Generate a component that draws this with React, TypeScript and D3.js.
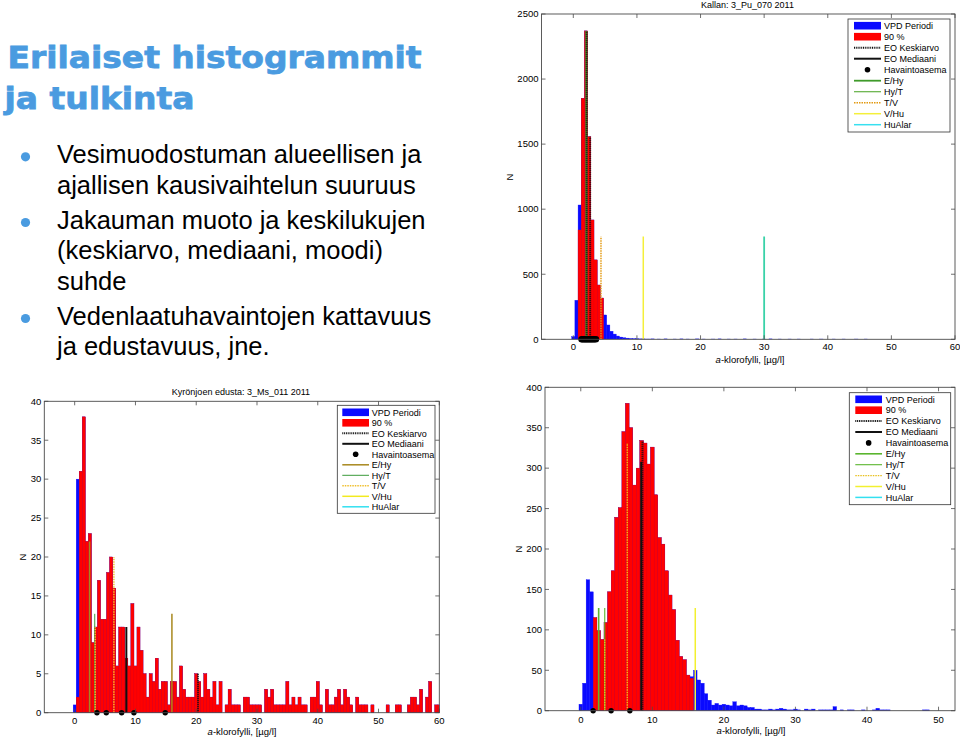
import React from 'react';
import * as d3 from 'd3';

const FONT = '"Liberation Sans", Arial, Helvetica, sans-serif';
const BIN = 0.5; // histogram bin width (µg/l); bin i is centred at i * BIN

// ---------------- slide text ----------------
const titleLines = ['Erilaiset histogrammit', 'ja tulkinta'];
const bulletGroups = [
  ['Vesimuodostuman alueellisen ja', 'ajallisen kausivaihtelun suuruus'],
  ['Jakauman muoto ja keskilukujen', '(keskiarvo, mediaani, moodi)', 'suhde'],
  ['Vedenlaatuhavaintojen kattavuus', 'ja edustavuus, jne.'],
];
const legendLabels = ['VPD Periodi', '90 %', 'EO Keskiarvo', 'EO Mediaani', 'Havaintoasema', 'E/Hy', 'Hy/T', 'T/V', 'V/Hu', 'HuAlar'];
const xLabelText = '-klorofylli, [µg/l]';

// ---------------- chart 1: Kallan ----------------
const kallanTitle = 'Kallan: 3_Pu_070 2011';
const kallanXTicks = [0, 10, 20, 30, 40, 50, 60];
const kallanYTicks = [0, 500, 1000, 1500, 2000, 2500];
const kallanRed = [0, 0, 840, 1852, 2370, 1557, 917, 610, 417, 317];
const kallanBlueTail = [187, 110, 62, 40, 25, 17, 12, 9, 6, 5, 4, 3, 3, 2, 2, 3, 0, 2, 0, 3, 0, 0, 2, 0, 3, 0, 2, 0, 0, 3, 0, 2, 0, 0, 2, 0, 3, 0, 0, 2, 0, 2, 0, 0, 3, 0, 0, 2, 0, 0, 2, 0, 3, 0, 0, 2, 0, 0, 2, 0, 0, 2, 0, 0, 0, 2, 0, 0, 2, 0, 0, 0, 2, 0, 0, 2, 0, 0, 0, 2, 0, 0, 2];
const kallanBlue = [20, 300, 1032, ...kallanRed.slice(3), ...kallanBlueTail];
const kallanLines = [
  { x: 2.05, h: 2370, kind: 'E/Hy' },
  { x: 2.1, h: 2370, kind: 'Keskiarvo' },
  { x: 2.65, h: 1557, kind: 'Keskiarvo' },
  { x: 4.35, h: 790, kind: 'T/V' },
  { x: 11.0, h: 790, kind: 'V/Hu' },
  { x: 30.0, h: 790, kind: 'HuAlarMix' },
];
const kallanStations = [1.3, 1.5, 1.7, 1.9, 2.1, 2.3, 2.5, 2.7, 2.9, 3.1, 3.3, 3.55];

// ---------------- chart 2: Kyrönjoen edusta ----------------
const kyroTitle = 'Kyrönjoen edusta: 3_Ms_011 2011';
const kyroXTicks = [0, 10, 20, 30, 40, 50, 60];
const kyroYTicks = [0, 5, 10, 15, 20, 25, 30, 35, 40];
const kyroRed = [
  0, 2, 31, 38, 22, 23, 9, 11, 17, 12,
  12, 18, 20, 16, 6, 11, 11, 7, 6, 14,
  6, 11, 8, 5, 2, 5, 4, 7, 3, 4,
  4, 1, 4, 4, 2, 6, 3, 2, 2, 2,
  5, 4, 2, 5, 3, 2, 4, 1, 4, 0,
  1, 3, 1, 1, 1, 0, 2, 2, 1, 1,
  1, 1, 0, 3, 2, 3, 1, 1, 1, 1,
  4, 1, 2, 1, 2, 1, 1, 0, 2, 2,
  4, 1, 0, 3, 1, 1, 2, 3, 1, 3,
  2, 1, 0, 2, 1, 1, 1, 0, 1, 0,
  0, 0, 0, 1, 0, 0, 1, 1, 0, 0,
  1, 2, 2, 1, 3, 0, 2, 4, 0, 1, 1,
];
const kyroBlue = [1, 30, ...kyroRed.slice(2)];
const kyroLines = [
  { x: 2.45, h: 22, kind: 'E/Hy' },
  { x: 3.3, h: 12.7, kind: 'Hy/T' },
  { x: 3.38, h: 11, kind: 'T/V' },
  { x: 6.45, h: 20, kind: 'T/V' },
  { x: 8.5, h: 11, kind: 'Mediaani' },
  { x: 16.0, h: 12.7, kind: 'E/Hy' },
  { x: 20.3, h: 5, kind: 'Keskiarvo' },
];
const kyroStations = [3.67, 5.2, 7.73, 9.75, 14.9];

// ---------------- chart 3 ----------------
const c3XTicks = [0, 10, 20, 30, 40, 50];
const c3YTicks = [0, 50, 100, 150, 200, 250, 300, 350, 400];
const c3Red = [
  0, 0, 0, 0, 115, 99, 88, 109, 147, 173,
  239, 251, 345, 380, 350, 279, 300, 334, 331, 305,
  326, 267, 214, 206, 173, 143, 125, 87, 67, 63,
  44, 40,
];
const c3BlueTail = [
  42, 50, 38, 34, 21, 13, 7, 9, 7, 8,
  7, 6, 11, 6, 7, 6, 4, 4, 2, 2,
  1, 1, 2, 1, 2, 3, 2, 1, 1, 2,
  1, 0, 2, 1, 2, 0, 1, 1, 1, 1,
  5, 0, 1, 0, 1, 1, 0, 0, 1, 0,
  0, 1, 3, 1, 1, 1, 0, 0, 0, 0,
  0, 0, 0, 0, 0, 1, 1,
];
const c3Blue = [8, 34, 162, 147, ...c3Red.slice(4, 31), ...c3BlueTail];
const c3Lines = [
  { x: 2.5, h: 127, kind: 'E/Hy' },
  { x: 3.35, h: 127, kind: 'Hy/T' },
  { x: 3.35, h: 88, kind: 'T/V' },
  { x: 6.5, h: 331, kind: 'T/V' },
  { x: 8.45, h: 308, kind: 'Mediaani' },
  { x: 8.62, h: 334, kind: 'Keskiarvo' },
  { x: 16.0, h: 127, kind: 'V/Hu' },
];
const c3Stations = [1.73, 4.24, 6.86];

// ---------------- styles ----------------
type LS = { stroke: string; w: number; dash?: string };
const kallanStyles: Record<string, LS> = {
  'E/Hy': { stroke: '#3f9a2a', w: 2 },
  'Hy/T': { stroke: '#62b043', w: 1.2 },
  'T/V': { stroke: '#e39a12', w: 1.5, dash: '1.5,1' },
  'V/Hu': { stroke: '#f4ef3a', w: 1.5 },
  HuAlar: { stroke: '#38e0f0', w: 1.5 },
  HuAlarMix: { stroke: '#3ad2a8', w: 1.8 },
  Keskiarvo: { stroke: '#111', w: 2, dash: '1,1' },
  Mediaani: { stroke: '#111', w: 2 },
};
const kyroStyles: Record<string, LS> = {
  'E/Hy': { stroke: '#a8881e', w: 1.5 },
  'Hy/T': { stroke: '#3a9a3a', w: 1 },
  'T/V': { stroke: '#f0c030', w: 1.5, dash: '1.5,1' },
  'V/Hu': { stroke: '#f2ea20', w: 1.5 },
  HuAlar: { stroke: '#33e0f0', w: 1.5 },
  Keskiarvo: { stroke: '#111', w: 2, dash: '1,1' },
  Mediaani: { stroke: '#111', w: 2 },
};
const c3Styles: Record<string, LS> = {
  'E/Hy': { stroke: '#5ab52e', w: 1.6 },
  'Hy/T': { stroke: '#5ab52e', w: 1.1 },
  'T/V': { stroke: '#e8c020', w: 1.4, dash: '1.5,1' },
  'V/Hu': { stroke: '#f2f030', w: 1.5 },
  HuAlar: { stroke: '#33e0f0', w: 1.5 },
  Keskiarvo: { stroke: '#111', w: 2, dash: '1,1' },
  Mediaani: { stroke: '#111', w: 2 },
};

const BLUE = '#0a0aff';
const RED = '#ff0000';

type Cfg = {
  id: string;
  left: number; right: number; top: number; bottom: number;
  xDomain: [number, number]; yDomain: [number, number];
  xTicks: number[]; yTicks: number[];
  blue: number[]; red: number[];
  lines: { x: number; h: number; kind: string }[];
  stations: number[]; dotR: number;
  styles: Record<string, LS>;
  title?: string; titleX?: number; titleY?: number;
  xlabX: number; xlabY: number; nX: number; nY: number;
  xtY: number;
  legend: { x0: number; x1: number; y0: number; y1: number; row0: number; step: number; sw0: number; sw1: number; tx: number };
};

function Legend({ cfg }: { cfg: Cfg }) {
  const L = cfg.legend;
  const s = cfg.styles;
  const kinds = ['E/Hy', 'Hy/T', 'T/V', 'V/Hu', 'HuAlar'];
  return (
    <g>
      <rect x={L.x0} y={L.y0} width={L.x1 - L.x0} height={L.y1 - L.y0} fill="#fff" stroke="#333" strokeWidth={0.8} />
      {legendLabels.map((lab, i) => {
        const cy = L.row0 + i * L.step;
        let sw: React.ReactNode = null;
        if (i === 0) sw = <rect x={L.sw0} y={cy - 3.8} width={L.sw1 - L.sw0} height={7.6} fill={BLUE} />;
        else if (i === 1) sw = <rect x={L.sw0} y={cy - 3.8} width={L.sw1 - L.sw0} height={7.6} fill={RED} />;
        else if (i === 2) sw = <line x1={L.sw0} x2={L.sw1} y1={cy} y2={cy} stroke="#111" strokeWidth={2} strokeDasharray="1,0.8" />;
        else if (i === 3) sw = <line x1={L.sw0} x2={L.sw1} y1={cy} y2={cy} stroke="#111" strokeWidth={2} />;
        else if (i === 4) sw = <circle cx={(L.sw0 + L.sw1) / 2} cy={cy} r={2.8} fill="#000" />;
        else {
          const st = s[kinds[i - 5]];
          sw = <line x1={L.sw0} x2={L.sw1} y1={cy} y2={cy} stroke={st.stroke} strokeWidth={Math.min(st.w, 1.8)} strokeDasharray={st.dash} />;
        }
        return (
          <g key={lab}>
            {sw}
            <text x={L.tx} y={cy + 3.2} fontSize={9} fontFamily={FONT} fill="#000">{lab}</text>
          </g>
        );
      })}
    </g>
  );
}

function Histogram({ cfg }: { cfg: Cfg }) {
  const x = d3.scaleLinear().domain(cfg.xDomain).range([cfg.left, cfg.right]);
  const y = d3.scaleLinear().domain(cfg.yDomain).range([cfg.bottom, cfg.top]);
  const bw = x(BIN) - x(0);
  const clipId = 'clip-' + cfg.id;
  const bars = (vals: number[], fill: string, stroke: string) =>
    vals.map((v, i) => {
      if (!v) return null;
      const c = i * BIN;
      return (
        <rect key={i} x={x(c - BIN / 2)} y={y(v)} width={bw} height={y(0) - y(v)} fill={fill} stroke={stroke} strokeWidth={0.35} />
      );
    });
  const axisColor = '#4a4a4a';
  const tl = 4;
  return (
    <g>
      <defs>
        <clipPath id={clipId}>
          <rect x={cfg.left} y={cfg.top} width={cfg.right - cfg.left} height={cfg.bottom - cfg.top} />
        </clipPath>
      </defs>
      <rect x={cfg.left} y={cfg.top} width={cfg.right - cfg.left} height={cfg.bottom - cfg.top} fill="#fff" />
      <g clipPath={`url(#${clipId})`}>
        {bars(cfg.blue, BLUE, BLUE)}
        {bars(cfg.red, RED, '#e8000c')}
        {cfg.lines.map((l, i) => {
          const st = cfg.styles[l.kind];
          return (
            <line key={i} x1={x(l.x)} x2={x(l.x)} y1={y(0)} y2={y(l.h)} stroke={st.stroke} strokeWidth={st.w} strokeDasharray={st.dash} />
          );
        })}
      </g>
      {cfg.stations.map((s, i) => (
        <circle key={i} cx={x(s)} cy={y(0)} r={cfg.dotR} fill="#000" />
      ))}
      {/* axes box */}
      <rect x={cfg.left} y={cfg.top} width={cfg.right - cfg.left} height={cfg.bottom - cfg.top} fill="none" stroke={axisColor} strokeWidth={0.9} />
      {cfg.xTicks.map((t) => (
        <g key={'x' + t}>
          <line x1={x(t)} x2={x(t)} y1={cfg.bottom} y2={cfg.bottom - tl} stroke={axisColor} strokeWidth={0.8} />
          <line x1={x(t)} x2={x(t)} y1={cfg.top} y2={cfg.top + tl} stroke={axisColor} strokeWidth={0.8} />
          <text x={x(t)} y={cfg.xtY} textAnchor="middle" fontSize={9.5} fontFamily={FONT} fill="#000">{t}</text>
        </g>
      ))}
      {cfg.yTicks.map((t) => (
        <g key={'y' + t}>
          <line x1={cfg.left} x2={cfg.left + tl} y1={y(t)} y2={y(t)} stroke={axisColor} strokeWidth={0.8} />
          <line x1={cfg.right} x2={cfg.right - tl} y1={y(t)} y2={y(t)} stroke={axisColor} strokeWidth={0.8} />
          <text x={cfg.left - 3} y={y(t) + 3.3} textAnchor="end" fontSize={9.5} fontFamily={FONT} fill="#000">{t}</text>
        </g>
      ))}
      {cfg.title && (
        <text x={cfg.titleX} y={cfg.titleY} textAnchor="middle" fontSize={9} fontFamily={FONT} fill="#000">{cfg.title}</text>
      )}
      <text x={cfg.xlabX} y={cfg.xlabY} textAnchor="middle" fontSize={9.5} fontFamily={FONT} fill="#000">
        <tspan fontStyle="italic">a</tspan>{xLabelText}
      </text>
      <text transform={`translate(${cfg.nX},${cfg.nY}) rotate(-90)`} textAnchor="middle" fontSize={9.5} fontFamily={FONT} fill="#000">N</text>
      <Legend cfg={cfg} />
    </g>
  );
}

const chart1: Cfg = {
  id: 'kallan', left: 541.5, right: 955, top: 14, bottom: 339.3,
  xDomain: [-5, 60], yDomain: [0, 2500], xTicks: kallanXTicks, yTicks: kallanYTicks,
  blue: kallanBlue, red: kallanRed, lines: kallanLines, stations: kallanStations, dotR: 3.3,
  styles: kallanStyles, title: kallanTitle, titleX: 747.5, titleY: 8,
  xlabX: 750, xlabY: 362.5, nX: 513, nY: 177, xtY: 350.3,
  legend: { x0: 848, x1: 950, y0: 19, y1: 132, row0: 25.7, step: 11, sw0: 854, sw1: 881, tx: 884 },
};
const chart2: Cfg = {
  id: 'kyro', left: 44.3, right: 439.3, top: 401.3, bottom: 712.7,
  xDomain: [-5, 60], yDomain: [0, 40], xTicks: kyroXTicks, yTicks: kyroYTicks,
  blue: kyroBlue, red: kyroRed, lines: kyroLines, stations: kyroStations, dotR: 2.7,
  styles: kyroStyles, title: kyroTitle, titleX: 241, titleY: 395,
  xlabX: 242, xlabY: 734.5, nX: 26, nY: 557, xtY: 724,
  legend: { x0: 337.3, x1: 435, y0: 405.3, y1: 513.3, row0: 412.3, step: 10.5, sw0: 342.3, sw1: 369, tx: 371.7 },
};
const chart3: Cfg = {
  id: 'c3', left: 545, right: 955, top: 387.3, bottom: 710.7,
  xDomain: [-5, 52.3], yDomain: [0, 400], xTicks: c3XTicks, yTicks: c3YTicks,
  blue: c3Blue, red: c3Red, lines: c3Lines, stations: c3Stations, dotR: 2.7,
  styles: c3Styles,
  xlabX: 751, xlabY: 733.5, nX: 522, nY: 549, xtY: 722.5,
  legend: { x0: 849.3, x1: 950.7, y0: 392.7, y1: 504.7, row0: 399.3, step: 10.9, sw0: 855.3, sw1: 882, tx: 885.7 },
};

export default function App() {
  const titleBlue = '#4a9be0';
  const bulletYs = [163.3, 229, 325];
  return (
    <svg width={960} height={737} viewBox="0 0 960 737" style={{ position: 'absolute', left: 0, top: 0, background: '#fff' }}>
      <rect x={0} y={0} width={960} height={737} fill="#fff" />
      <text x={7.5} y={68} fontSize={31} fontWeight="bold" fontFamily='"DejaVu Sans", sans-serif' fill={titleBlue} stroke={titleBlue} strokeWidth={0.8} textLength={414} lengthAdjust="spacingAndGlyphs">{titleLines[0]}</text>
      <text x={4.5} y={108.5} fontSize={31} fontWeight="bold" fontFamily='"DejaVu Sans", sans-serif' fill={titleBlue} stroke={titleBlue} strokeWidth={0.8} textLength={190} lengthAdjust="spacingAndGlyphs">{titleLines[1]}</text>
      {bulletGroups.map((grp, gi) => {
        const y0 = bulletYs[gi];
        return (
          <g key={gi}>
            <circle cx={25.5} cy={y0 - 6.5} r={4.6} fill={titleBlue} />
            {grp.map((ln, li) => (
              <text key={li} x={57} y={y0 + li * 30.3} fontSize={25.5} fontFamily={FONT} fill="#000">{ln}</text>
            ))}
          </g>
        );
      })}
      <Histogram cfg={chart1} />
      <Histogram cfg={chart2} />
      <Histogram cfg={chart3} />
    </svg>
  );
}
